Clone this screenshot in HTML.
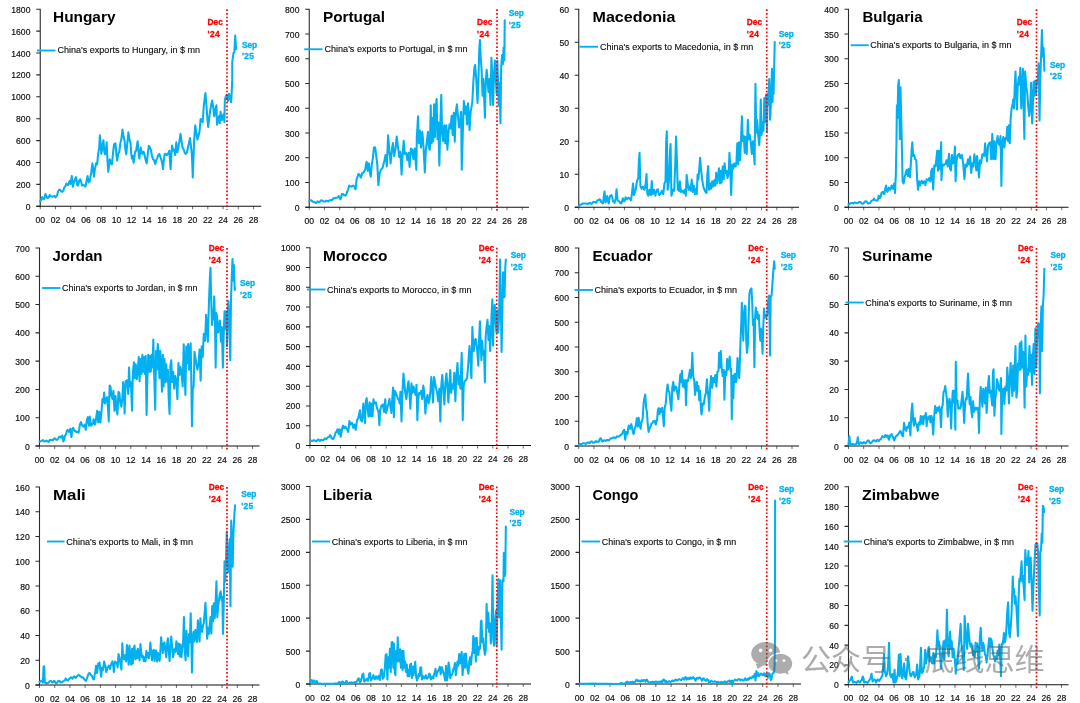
<!DOCTYPE html>
<html lang="en"><head><meta charset="utf-8"><title>China exports charts</title>
<style>
html,body{margin:0;padding:0;background:#fff;}
body{width:1080px;height:703px;overflow:hidden;}
svg{display:block;filter:blur(0.45px);font-family:"Liberation Sans","Noto Sans CJK SC",sans-serif;}
.ya{stroke:#2b2b2b;stroke-width:1.1;fill:none;}
.xa{stroke:#111;stroke-width:1.15;fill:none;}
.xt{stroke:#666;stroke-width:0.95;fill:none;}
.d{stroke:#00B0F0;stroke-width:2.05;fill:none;stroke-linejoin:round;stroke-linecap:round;}
.lg{stroke:#00B0F0;stroke-width:1.85;fill:none;}
.r{stroke:#FF0000;stroke-width:1.7;fill:none;stroke-dasharray:1.7 2;}
.y,.x{stroke:#0d0d0d;stroke-width:0.16px;}
.l{stroke:#0d0d0d;stroke-width:0.12px;}
.y{font-size:8.6px;fill:#0d0d0d;text-anchor:end;}
.x{font-size:8.6px;fill:#0d0d0d;text-anchor:middle;}
.l{font-size:8.3px;fill:#0d0d0d;}
.t{font-size:15.5px;font-weight:bold;fill:#000;}
.dc{font-size:8.4px;font-weight:bold;fill:#FF0000;stroke:#f00;stroke-width:0.3px;}
.sp{font-size:8.4px;font-weight:bold;fill:#00B0F0;stroke:#00B0F0;stroke-width:0.3px;}
</style></head><body>
<svg width="1080" height="703" viewBox="0 0 1080 703">
<rect width="1080" height="703" fill="#fff"/>
<g>
<path class="ya" d="M40.25 8.75V206.25M36.25 206.25h4M36.25 184.36h4M36.25 162.47h4M36.25 140.58h4M36.25 118.69h4M36.25 96.81h4M36.25 74.92h4M36.25 53.03h4M36.25 31.14h4M36.25 9.25h4"/>
<path class="xt" d="M40.25 206.25v3M55.48 206.25v3M70.71 206.25v3M85.95 206.25v3M101.18 206.25v3M116.41 206.25v3M131.64 206.25v3M146.88 206.25v3M162.11 206.25v3M177.34 206.25v3M192.57 206.25v3M207.8 206.25v3M223.04 206.25v3M238.27 206.25v3M253.5 206.25v3"/>
<path class="xa" d="M36.25 206.25H261.25"/>
<polyline class="d" points="40.11,201.39 41.17,199.77 42.22,197.17 43.07,198.75 43.91,199.28 44.65,198.01 45.39,194 46.44,196.59 47.5,198.22 48.56,197.48 49.61,195.06 50.67,195.87 51.72,196.53 52.78,196.68 53.83,196.11 54.68,196.1 55.52,197.38 56.26,196.3 57,195.69 58.06,191.46 59.11,189.78 60.17,189.85 61.22,191.47 62.28,191.7 63.33,190.83 64.18,187.61 65.02,186.61 65.76,185.56 66.5,183.44 67.24,184.39 67.98,185.13 68.82,183.65 69.67,180.91 70.72,183.87 71.78,176.06 72.83,186.61 73.57,183.88 74.31,181.33 75.16,178.76 76,177.11 76.63,180.59 77.27,185.13 78.11,185.56 79.17,180.91 80.22,179.22 81.07,181.16 81.91,185.56 82.65,185.17 83.39,185.13 84.44,185.57 85.5,186.61 86.56,180.6 87.61,176.06 88.67,182.39 89.72,181.33 90.46,176.8 91.2,172.89 91.83,167.64 92.47,163.39 93.21,169.65 93.94,176.69 95,168.67 96.06,163.39 97.11,164.44 98.17,153.89 99.22,147.56 99.86,135.31 100.7,143.33 101.33,153.89 102.39,147.56 103.44,140.17 104.29,151.78 105.13,154.31 105.98,149.67 106.61,142.28 107.46,160.22 108.3,171.83 109.14,164.44 109.78,159.17 110.83,163.39 111.89,164.44 112.94,153.89 114,144.39 114.74,143.93 115.48,143.33 116.32,153.89 117.17,160.64 118.22,153.89 119.28,151.78 120.33,143.33 121.39,139.11 122.44,129.61 123.5,135.94 124.56,141.22 125.4,149.67 126.24,154.31 127.3,143.33 128.36,132.36 129.41,139.11 130.47,143.33 131.31,153.89 131.94,158.53 132.79,156 133.63,162.76 134.48,156 135.11,151.78 135.74,151.52 136.38,149.67 137.01,145.21 137.64,141.22 138.49,151.78 139.33,158.53 140.18,151.78 140.81,147.56 141.66,152.83 142.5,153.89 143.56,151.78 144.61,154.94 145.67,160.22 146.72,163.39 147.78,153.89 148.83,145.87 149.89,147.56 150.94,149.67 152,156 153.06,159.17 154.11,160.22 155.17,164.02 156.22,160.22 157.28,158.11 158.33,154.94 159.39,153.89 160.44,157.06 161.5,160.22 162.34,164.44 162.98,169.09 163.82,160.22 164.67,153.89 165.51,153.74 166.36,154.94 167.09,154.9 167.83,153.89 168.57,152.4 169.31,150.72 169.94,160.22 170.58,169.09 171.42,153.89 172.06,145.44 173.11,150.72 174.17,149.67 175.22,154.94 176.28,142.28 177.33,152.2 178.39,147.56 179.44,141.22 180.5,133.83 181.56,141.22 182.61,147.98 183.35,148.55 184.09,150.72 184.93,153.08 185.78,153.89 186.83,152.83 187.89,147.56 188.94,143.33 190,138.06 190.84,145.44 191.69,152.2 192.32,164.44 192.74,177.53 193.38,160.22 194.22,139.11 194.86,130.67 195.28,125.39 196.33,132.78 197.39,139.53 198.44,135.94 199.5,131.72 200.13,124.33 200.56,119.06 201.61,120.11 202.67,122.22 203.3,113.78 203.72,106.39 204.57,99 205.41,93.09 206.26,103.22 206.89,111.67 207.52,120.11 208.16,126.87 209,120.11 210.06,111.67 211.11,105.33 212.17,100.48 213.22,107.44 214.28,116.31 215.33,109.56 216.39,105.33 217.02,124.76 218.08,120.11 219.13,115.89 219.77,123.28 220.61,111.67 221.24,116.94 222.09,120.11 222.93,115.89 223.78,113.78 224.41,122.22 224.83,100.06 225.68,96.89 226.52,94.78 227.16,99 228,101.11 228.63,96.89 229.06,93.72 230.11,99 231.17,102.17 231.8,90.56 232.22,80 232.25,84.66 232.25,61.9 233.39,53.36 234.38,51.94 235.23,35.58 235.8,44.83 236.09,49.1"/>
<text class="y" x="30.45" y="209.75">0</text>
<text class="y" x="30.45" y="187.86">200</text>
<text class="y" x="30.45" y="165.97">400</text>
<text class="y" x="30.45" y="144.08">600</text>
<text class="y" x="30.45" y="122.19">800</text>
<text class="y" x="30.45" y="100.31">1000</text>
<text class="y" x="30.45" y="78.42">1200</text>
<text class="y" x="30.45" y="56.53">1400</text>
<text class="y" x="30.45" y="34.64">1600</text>
<text class="y" x="30.45" y="12.75">1800</text>
<text class="x" x="40.25" y="222.85">00</text>
<text class="x" x="55.48" y="222.85">02</text>
<text class="x" x="70.71" y="222.85">04</text>
<text class="x" x="85.95" y="222.85">06</text>
<text class="x" x="101.18" y="222.85">08</text>
<text class="x" x="116.41" y="222.85">10</text>
<text class="x" x="131.64" y="222.85">12</text>
<text class="x" x="146.88" y="222.85">14</text>
<text class="x" x="162.11" y="222.85">16</text>
<text class="x" x="177.34" y="222.85">18</text>
<text class="x" x="192.57" y="222.85">20</text>
<text class="x" x="207.8" y="222.85">22</text>
<text class="x" x="223.04" y="222.85">24</text>
<text class="x" x="238.27" y="222.85">26</text>
<text class="x" x="253.5" y="222.85">28</text>
<text class="t" x="53" y="22.25" textLength="62.5" lengthAdjust="spacingAndGlyphs">Hungary</text>
<path class="lg" d="M37 50.5H55.5"/>
<text class="l" x="57.5" y="53" textLength="142.5" lengthAdjust="spacingAndGlyphs">China's exports to Hungary, in $ mn</text>
<path class="r" d="M227 9.25V209.65"/>
<text class="dc" x="207.5" y="25" textLength="15.3">Dec</text><text class="dc" x="207.5" y="36.75" textLength="12.2">'24</text>
<text class="sp" x="242" y="47.5" textLength="15">Sep</text><text class="sp" x="242" y="59" textLength="12">'25</text>
</g>
<g>
<path class="ya" d="M309.25 8.75V207.25M305.25 207.25h4M305.25 182.5h4M305.25 157.75h4M305.25 133h4M305.25 108.25h4M305.25 83.5h4M305.25 58.75h4M305.25 34h4M305.25 9.25h4"/>
<path class="xt" d="M309.25 207.25v3M324.46 207.25v3M339.68 207.25v3M354.89 207.25v3M370.11 207.25v3M385.32 207.25v3M400.54 207.25v3M415.75 207.25v3M430.96 207.25v3M446.18 207.25v3M461.39 207.25v3M476.61 207.25v3M491.82 207.25v3M507.04 207.25v3M522.25 207.25v3"/>
<path class="xa" d="M305.25 207.25H529"/>
<polyline class="d" points="309.11,201.39 310.17,200.32 311.22,200.33 312.28,201.16 313.33,202.02 314.39,202.01 315.44,202.87 316.5,202.71 317.56,201.39 318.61,202.28 319.67,202.02 320.72,200.59 321.78,200.33 322.83,200.92 323.89,201.6 324.94,201.67 326,200.76 327.06,200.69 328.11,201.6 329.17,200.55 330.22,200.33 331.28,199.99 332.33,199.91 333.39,198.33 334.44,198.22 335.5,197.77 336.56,197.8 337.61,197.52 338.67,196.11 339.51,197.54 340.36,199.28 341.09,197.53 341.83,194 342.89,194.02 343.94,195.06 344.68,195.23 345.42,195.69 346.27,194.64 347.11,191.89 348.17,189.3 349.22,185.56 350.28,186.46 351.33,186.61 352.39,185.87 353.44,185.56 354.5,187 355.56,189.36 356.61,179.22 357.46,177.19 358.3,173.94 359.04,174.29 359.78,175 360.83,177.53 361.57,175.53 362.31,172.89 363.16,172.81 364,171.83 364.63,170.45 365.27,169.72 366.01,164.26 366.74,161.91 367.8,170.78 368.86,163.39 369.91,172.89 370.76,176.69 371.81,164.44 372.87,158.11 373.92,147.56 374.56,147.27 375.19,147.56 376.24,156 377.3,164.44 378.36,185.13 379.41,175 380.47,170.78 381.21,169.38 381.94,168.67 382.68,167.64 383.42,164.44 384.48,160.22 385.53,154.94 386.17,159.21 386.8,166.56 387.43,152.27 388.07,135.31 388.7,142.61 389.33,151.78 389.97,156.27 390.6,163.39 391.23,156.76 391.87,149.67 392.92,142.91 393.56,150.92 394.19,156 394.82,151.9 395.46,149.67 396.09,142.71 396.72,136.58 397.36,141.41 397.99,147.56 398.62,151.41 399.26,157.06 400.31,151.78 400.94,162.37 401.58,174.58 402.63,153.89 403.69,140.8 404.74,153.89 405.38,153.6 406.01,152.83 406.64,155.23 407.28,160.22 407.91,157.07 408.54,152.83 409.6,166.98 410.23,158.04 410.87,148.61 411.5,149.05 412.13,149.67 412.77,155.54 413.4,159.17 414.03,152.57 414.67,148.61 415.51,160.22 416.36,169.72 416.78,138.06 417.41,127.42 418.04,116.31 418.89,143.33 419.94,130.67 421,147.56 421.63,138.91 422.27,131.72 422.9,138.24 423.53,147.56 424.17,159.47 424.8,172.47 425.86,149.67 426.91,141.22 427.97,131.72 428.81,147.56 429.87,149.67 430.71,105.33 431.56,143.33 432.4,118 433.24,141.22 434.09,104.28 434.93,137 435.78,107.44 436.62,99 437.47,139.11 438.31,122.22 439.37,165.5 440.21,128.56 441.27,94.78 442.11,132.78 443.17,141.22 444.22,125.39 445.28,143.33 446.33,125.39 447.39,149.67 448.44,132.78 449.5,124.33 450.56,128.56 451.61,115.89 452.67,134.89 453.72,112.72 454.78,141.64 455.83,111.67 456.89,104.28 457.94,115.89 459,127.5 460.06,121.17 461.11,111.67 461.74,169.72 462.8,132.78 463.86,101.11 464.91,113.78 465.97,106.39 467.02,124.33 468.08,103.22 468.82,117.17 469.56,130.24 470.61,111.67 471.49,107.36 472.36,101.16 473.29,82.67 474.4,67.87 475.14,65.1 476.24,78.97 476.89,91.28 477.54,103.01 478.46,78.97 479.2,51.23 479.94,40.14 480.68,56.78 481.61,69.72 482.53,95.61 483.46,78.97 484.2,99.72 484.94,117.8 485.68,84.52 486.6,69.72 487.52,78.97 488.45,91.91 489.56,78.97 490.48,104.86 491.41,57.7 492.33,75.27 493.07,104.86 494,75.27 494.92,60.48 495.85,78.97 496.59,93.76 497.33,60.48 498.07,82.67 498.81,105.78 499.54,82.67 500.47,123.35 501.21,66.02 502.13,54.93 502.87,64.17 503.61,47.53 504.35,60.48 504.72,20.16"/>
<text class="y" x="299.45" y="210.75">0</text>
<text class="y" x="299.45" y="186">100</text>
<text class="y" x="299.45" y="161.25">200</text>
<text class="y" x="299.45" y="136.5">300</text>
<text class="y" x="299.45" y="111.75">400</text>
<text class="y" x="299.45" y="87">500</text>
<text class="y" x="299.45" y="62.25">600</text>
<text class="y" x="299.45" y="37.5">700</text>
<text class="y" x="299.45" y="12.75">800</text>
<text class="x" x="309.25" y="223.85">00</text>
<text class="x" x="324.46" y="223.85">02</text>
<text class="x" x="339.68" y="223.85">04</text>
<text class="x" x="354.89" y="223.85">06</text>
<text class="x" x="370.11" y="223.85">08</text>
<text class="x" x="385.32" y="223.85">10</text>
<text class="x" x="400.54" y="223.85">12</text>
<text class="x" x="415.75" y="223.85">14</text>
<text class="x" x="430.96" y="223.85">16</text>
<text class="x" x="446.18" y="223.85">18</text>
<text class="x" x="461.39" y="223.85">20</text>
<text class="x" x="476.61" y="223.85">22</text>
<text class="x" x="491.82" y="223.85">24</text>
<text class="x" x="507.04" y="223.85">26</text>
<text class="x" x="522.25" y="223.85">28</text>
<text class="t" x="323" y="22.25" textLength="62" lengthAdjust="spacingAndGlyphs">Portugal</text>
<path class="lg" d="M304.25 49.25H322.5"/>
<text class="l" x="324.5" y="52" textLength="143" lengthAdjust="spacingAndGlyphs">China's exports to Portugal, in $ mn</text>
<path class="r" d="M497 9.25V210.65"/>
<text class="dc" x="477" y="25" textLength="15.3">Dec</text><text class="dc" x="477" y="36.75" textLength="12.2">'24</text>
<text class="sp" x="508.75" y="16.25" textLength="15">Sep</text><text class="sp" x="508.75" y="28" textLength="12">'25</text>
</g>
<g>
<path class="ya" d="M578.75 8.75V207.25M574.75 207.25h4M574.75 174.25h4M574.75 141.25h4M574.75 108.25h4M574.75 75.25h4M574.75 42.25h4M574.75 9.25h4"/>
<path class="xt" d="M578.75 207.25v3M593.98 207.25v3M609.21 207.25v3M624.45 207.25v3M639.68 207.25v3M654.91 207.25v3M670.14 207.25v3M685.38 207.25v3M700.61 207.25v3M715.84 207.25v3M731.07 207.25v3M746.3 207.25v3M761.54 207.25v3M776.77 207.25v3M792 207.25v3"/>
<path class="xa" d="M574.75 207.25H799"/>
<polyline class="d" points="578.74,206.24 580.01,204.66 581.28,204.56 582.86,203.43 584.44,203.5 586.03,203.55 587.61,204.13 588.67,203.17 589.72,202.87 590.78,203.75 591.83,203.71 592.89,202.19 593.94,202.02 595,202 596.06,202.87 597.11,200.85 598.17,199.91 598.91,199.99 599.64,199.28 600.49,199.88 601.33,202.44 602.18,202.86 603.02,203.5 603.76,196.69 604.5,191.47 605.56,202.44 606.4,199.06 607.24,196.11 607.98,200.87 608.72,203.5 609.46,198.41 610.2,195.69 610.83,195.64 611.47,195.06 612.21,196.82 612.94,201.39 613.79,201.49 614.63,202.87 615.69,198.22 616.53,189.36 617.59,200.33 618.43,201.05 619.28,201.39 620.33,203.09 621.39,203.5 622.13,200.9 622.87,198.22 623.5,200.81 624.13,201.39 624.87,200.36 625.61,197.17 626.35,198.44 627.09,199.28 627.93,197.96 628.78,197.8 629.83,198.87 630.89,200.33 631.94,194 633,183.44 634.06,195.06 634.9,192.32 635.74,189.78 636.48,183.99 637.22,180.28 638.28,178.17 638.91,160.22 639.54,152.83 640.39,185.56 641.44,188.72 642.29,187.3 643.13,186.61 643.87,189.16 644.61,189.78 645.67,183.44 646.51,173.94 647.36,194 648.41,195.69 649.47,189.78 650.21,193.54 650.94,195.06 651.79,180.91 652.84,194 653.48,192.11 654.11,189.78 654.74,191.28 655.38,195.69 656.01,192.64 656.64,190.83 657.28,189.43 657.91,189.36 658.54,192.67 659.18,195.06 659.81,194.2 660.44,194 661.18,192.38 661.92,190.83 662.56,192.41 663.19,194 663.82,189.31 664.46,183.44 665.51,181.33 666.14,143.33 666.78,131.3 667.62,189.78 668.26,186.61 668.89,181.33 669.94,151.78 670.58,143.97 671.42,195.69 672.06,193.79 672.69,189.78 673.43,189.98 674.17,190.83 675.22,164.44 676.07,136.58 676.91,160.22 677.76,189.78 678.39,190.03 679.02,190.83 679.87,181.33 680.92,191.89 681.56,191.66 682.19,190.83 682.93,191.94 683.67,192.94 684.3,190.5 684.93,189.78 685.78,195.69 686.62,175 687.47,181.33 688.52,189.78 689.58,186.61 690.63,190.83 691.69,179.64 692.74,191.89 693.8,185.56 694.86,194 695.91,188.72 696.76,194 697.6,174.58 698.44,179.22 699.29,168.67 700.13,157.69 700.98,168.67 702.03,178.17 703.09,185.56 703.72,187.96 704.36,189.78 705.41,191.89 706.47,192.94 707.31,175 708.16,166.13 709,189.78 710.06,183.44 711.11,188.72 712.17,181.33 713.22,186.61 714.28,180.28 715.33,185.56 716.18,172.89 717.02,183.44 717.87,179.22 718.92,168.24 719.98,183.44 720.82,170.78 721.67,182.39 722.72,166.56 723.78,179.22 724.62,163.39 725.47,172.89 726.52,170.78 727.58,178.17 728.63,172.89 729.48,152.83 730.32,168.67 731.17,195.06 732.22,164.44 733.28,168.67 734.33,163.39 734.97,164.83 735.6,166.56 736.44,162.33 737.29,143.33 738.13,164.44 738.98,142.28 740.03,160.22 740.88,143.33 741.93,116.31 742.78,141.22 743.83,135.94 744.68,152.83 745.73,137 746.79,153.89 747.84,119.69 748.69,139.11 749.74,134.89 750.8,143.33 751.86,153.89 752.91,141.22 753.76,151.78 754.6,164.44 755.44,83.8 756.29,132.78 757.13,120.11 758.19,134.89 759.24,145.02 760.09,130.67 760.72,99.42 761.57,134.89 762.41,122.22 763.47,130.67 764.31,97.94 765.16,122.22 766,94.78 767.06,131.72 767.33,93.76 768.25,104.86 769.17,78.97 770.1,119.65 771.02,101.16 771.95,68.8 772.5,102.08 773.06,84.52 773.61,93.76 774.72,41.98"/>
<text class="y" x="568.95" y="210.75">0</text>
<text class="y" x="568.95" y="177.75">10</text>
<text class="y" x="568.95" y="144.75">20</text>
<text class="y" x="568.95" y="111.75">30</text>
<text class="y" x="568.95" y="78.75">40</text>
<text class="y" x="568.95" y="45.75">50</text>
<text class="y" x="568.95" y="12.75">60</text>
<text class="x" x="578.75" y="223.85">00</text>
<text class="x" x="593.98" y="223.85">02</text>
<text class="x" x="609.21" y="223.85">04</text>
<text class="x" x="624.45" y="223.85">06</text>
<text class="x" x="639.68" y="223.85">08</text>
<text class="x" x="654.91" y="223.85">10</text>
<text class="x" x="670.14" y="223.85">12</text>
<text class="x" x="685.38" y="223.85">14</text>
<text class="x" x="700.61" y="223.85">16</text>
<text class="x" x="715.84" y="223.85">18</text>
<text class="x" x="731.07" y="223.85">20</text>
<text class="x" x="746.3" y="223.85">22</text>
<text class="x" x="761.54" y="223.85">24</text>
<text class="x" x="776.77" y="223.85">26</text>
<text class="x" x="792" y="223.85">28</text>
<text class="t" x="592.5" y="22.25" textLength="83" lengthAdjust="spacingAndGlyphs">Macedonia</text>
<path class="lg" d="M579.5 46.75H598"/>
<text class="l" x="600" y="49.75" textLength="153.25" lengthAdjust="spacingAndGlyphs">China's exports to Macedonia, in $ mn</text>
<path class="r" d="M766.75 9.25V210.65"/>
<text class="dc" x="746.75" y="25" textLength="15.3">Dec</text><text class="dc" x="746.75" y="36.75" textLength="12.2">'24</text>
<text class="sp" x="778.75" y="36.75" textLength="15">Sep</text><text class="sp" x="778.75" y="48.25" textLength="12">'25</text>
</g>
<g>
<path class="ya" d="M848.5 8.75V207.25M844.5 207.25h4M844.5 182.5h4M844.5 157.75h4M844.5 133h4M844.5 108.25h4M844.5 83.5h4M844.5 58.75h4M844.5 34h4M844.5 9.25h4"/>
<path class="xt" d="M848.5 207.25v3M863.73 207.25v3M878.96 207.25v3M894.2 207.25v3M909.43 207.25v3M924.66 207.25v3M939.89 207.25v3M955.12 207.25v3M970.36 207.25v3M985.59 207.25v3M1000.82 207.25v3M1016.05 207.25v3M1031.29 207.25v3M1046.52 207.25v3M1061.75 207.25v3"/>
<path class="xa" d="M844.5 207.25H1068.5"/>
<polyline class="d" points="848.53,204.56 849.91,203.61 851.28,203.08 852.33,202.92 853.39,203.71 854.44,202.59 855.5,202.44 856.56,203.25 857.61,203.29 858.67,202.19 859.72,202.02 860.78,202.3 861.83,203.71 862.89,203.77 863.94,202.87 865,201.46 866.06,201.18 867.11,202.13 868.17,203.5 869.22,203.31 870.28,202.87 871.33,200.85 872.39,200.33 873.23,199.97 874.08,198.64 874.82,200.01 875.56,200.33 876.4,200.58 877.24,200.76 877.98,199.69 878.72,195.69 879.78,198.22 880.62,196.93 881.47,192.94 882.21,192.18 882.94,191.89 883.68,193.81 884.42,194 885.27,188.61 886.11,185.56 886.74,189.8 887.38,191.89 888.12,190.21 888.86,187.67 889.59,188.55 890.33,189.78 890.97,188.28 891.6,185.56 892.23,187.11 892.87,188.72 893.5,186.06 894.13,183.44 894.98,192.94 895.82,175 896.46,143.33 896.88,105.33 897.51,118 898.14,86.33 898.78,80 899.41,111.67 899.83,139.11 900.47,87.39 901.1,111.67 901.73,139.11 902.58,181.33 903.63,183.44 904.69,177.11 905.74,172.89 906.8,169.72 907.86,176.06 908.91,168.67 909.97,177.11 910.81,164.44 911.66,149.67 912.29,142.28 913.13,156 914.19,154.94 915.24,159.17 916.3,160.22 917.14,179.22 917.99,189.78 919.04,181.33 919.68,183.05 920.31,185.56 920.94,182.3 921.58,180.91 922.21,181.28 922.84,183.44 923.48,182.12 924.11,181.33 924.74,183.12 925.38,185.13 926.01,181.82 926.64,179.22 927.28,180.27 927.91,180.28 928.54,179.2 929.18,178.17 929.81,180.76 930.44,181.33 931.29,170.78 932.13,168.67 933.19,189.36 934.24,165.5 934.88,166.7 935.51,166.56 936.36,159.17 937.2,150.72 938.04,170.78 938.89,150.72 939.73,168.67 940.58,154.94 941.21,142.28 941.42,180.28 942.48,164.44 943.11,164.67 943.74,165.5 944.48,164.49 945.22,164.02 945.86,162.62 946.49,160.22 947.12,163.21 947.76,166.56 948.39,158.76 949.02,153.89 950.08,168.67 950.92,170.36 951.98,154.94 953.03,163.39 954.09,160.22 954.93,146.5 955.57,181.33 956.62,160.22 957.26,156.72 957.89,154.94 958.52,154.74 959.16,153.89 959.79,157.23 960.42,158.11 961.06,155.89 961.69,154.94 962.74,160.22 963.59,168.67 964.43,179.22 965.49,164.44 966.12,165.43 966.76,166.56 967.39,162.44 968.02,159.17 969.08,164.44 970.13,156.42 971.19,172.89 972.24,163.39 973.3,166.56 974.36,154.31 975.41,160.22 976.26,170.36 977.1,156 977.94,164.44 979,177.53 980.06,160.22 981.11,163.39 982.17,154.94 983.22,153.89 984.28,156 985.12,143.33 985.97,151.78 987.02,161.28 988.08,145.44 989.13,143.33 990.19,142.28 991.24,159.17 992.3,133.83 993.36,159.17 994.41,141.22 995.47,159.17 996.52,143.33 997.58,135.94 998.63,143.33 999.69,145.44 1000.53,135.94 1001.38,185.98 1002.22,143.33 1003.28,137 1004.33,147.56 1005.39,138.06 1006.44,139.11 1007.29,126.87 1008.13,141.22 1008.98,125.39 1009.82,143.33 1010.67,118 1011.72,107.44 1012.78,103.22 1013.29,99.31 1014.03,108.56 1014.77,86.37 1015.5,71.57 1016.24,93.76 1016.98,109.48 1017.72,86.37 1018.83,77.12 1019.57,84.52 1020.31,67.87 1021.24,108.56 1022.16,88.21 1022.9,68.8 1023.64,108.56 1024.38,139.07 1025.12,71.57 1026.23,86.37 1027.16,91.91 1028.08,104.86 1029.19,115.95 1030.11,108.56 1031.04,82.67 1032.15,123.35 1032.89,104.86 1033.63,81.74 1034.37,95.61 1035.11,80.82 1036.03,93.76 1036.96,80.82 1037.7,82.67 1038.62,63.25 1039.54,120.58 1040.28,78.97 1041.21,53.08 1041.95,29.96 1042.69,56.78 1043.61,47.9 1044.35,70.65"/>
<text class="y" x="838.7" y="210.75">0</text>
<text class="y" x="838.7" y="186">50</text>
<text class="y" x="838.7" y="161.25">100</text>
<text class="y" x="838.7" y="136.5">150</text>
<text class="y" x="838.7" y="111.75">200</text>
<text class="y" x="838.7" y="87">250</text>
<text class="y" x="838.7" y="62.25">300</text>
<text class="y" x="838.7" y="37.5">350</text>
<text class="y" x="838.7" y="12.75">400</text>
<text class="x" x="848.5" y="223.85">00</text>
<text class="x" x="863.73" y="223.85">02</text>
<text class="x" x="878.96" y="223.85">04</text>
<text class="x" x="894.2" y="223.85">06</text>
<text class="x" x="909.43" y="223.85">08</text>
<text class="x" x="924.66" y="223.85">10</text>
<text class="x" x="939.89" y="223.85">12</text>
<text class="x" x="955.12" y="223.85">14</text>
<text class="x" x="970.36" y="223.85">16</text>
<text class="x" x="985.59" y="223.85">18</text>
<text class="x" x="1000.82" y="223.85">20</text>
<text class="x" x="1016.05" y="223.85">22</text>
<text class="x" x="1031.29" y="223.85">24</text>
<text class="x" x="1046.52" y="223.85">26</text>
<text class="x" x="1061.75" y="223.85">28</text>
<text class="t" x="862.5" y="22.25" textLength="60" lengthAdjust="spacingAndGlyphs">Bulgaria</text>
<path class="lg" d="M850.75 45.25H868.75"/>
<text class="l" x="870.25" y="48.25" textLength="141.25" lengthAdjust="spacingAndGlyphs">China's exports to Bulgaria, in $ mn</text>
<path class="r" d="M1036.5 9.25V210.65"/>
<text class="dc" x="1016.75" y="25" textLength="15.3">Dec</text><text class="dc" x="1016.75" y="36.75" textLength="12.2">'24</text>
<text class="sp" x="1050" y="67.5" textLength="15">Sep</text><text class="sp" x="1050" y="79" textLength="12">'25</text>
</g>
<g>
<path class="ya" d="M39.5 247.5V446M35.5 446h4M35.5 417.71h4M35.5 389.43h4M35.5 361.14h4M35.5 332.86h4M35.5 304.57h4M35.5 276.29h4M35.5 248h4"/>
<path class="xt" d="M39.5 446v3M54.71 446v3M69.93 446v3M85.14 446v3M100.36 446v3M115.57 446v3M130.79 446v3M146 446v3M161.21 446v3M176.43 446v3M191.64 446v3M206.86 446v3M222.07 446v3M237.29 446v3M252.5 446v3"/>
<path class="xa" d="M35.5 446H259.5"/>
<polyline class="d" points="39.53,441.44 40.91,441.24 42.28,440.39 43.33,440.31 44.39,441.44 45.44,441.23 46.5,440.6 47.56,441.47 48.61,441.87 49.67,440.14 50.72,439.76 51.78,440.04 52.83,440.39 53.89,438.72 54.94,438.28 56,439.63 57.06,439.76 58.11,438.62 59.17,436.8 60.22,436.61 61.28,437.64 62.33,435.53 63.39,441.44 64.13,439.61 64.87,436.17 65.5,434.95 66.13,434.06 66.87,430.83 67.61,429.83 68.35,430.69 69.09,431.94 69.72,430.17 70.36,428.78 71.41,437.22 72.47,428.78 73.31,427.72 73.94,430.34 74.58,430.89 75.32,430.83 76.06,431.94 76.79,431.69 77.53,431.94 78.59,432.58 79.22,429.44 79.86,424.56 80.91,422.02 81.54,423.97 82.18,425.61 82.81,425.65 83.44,426.67 84.08,425.48 84.71,424.56 85.77,429.83 86.82,420.33 87.88,417.17 88.93,425.61 89.78,416.53 90.41,421.43 91.04,425.61 91.68,424.84 92.31,424.56 92.94,422.72 93.58,419.28 94.21,420.73 94.84,424.56 95.48,422.63 96.11,418.22 97.17,410.83 98.22,422.44 99.28,411.89 100.33,422.44 101.39,412.94 102.44,399.22 103.29,402.39 104.13,392.47 104.98,403.44 106.03,399.22 107.09,397.11 107.93,407.67 108.78,421.39 109.62,385.5 110.47,386.56 111.52,396.06 112.58,399.22 113.42,390.78 114.48,410.83 115.53,396.06 116.38,407.67 117.43,414.42 118.49,391.83 119.33,392.89 120.39,403.44 121.44,406.61 122.29,399.22 123.13,381.91 123.98,390.78 124.61,413.58 125.67,381.28 126.3,380.85 126.93,380.22 127.57,385.72 128.2,393.94 129.04,367.56 129.89,386.56 130.94,382.33 132,410.83 132.84,373.89 133.9,362.28 134.74,378.11 135.8,364.39 136.86,379.17 137.91,368.61 138.76,357 139.6,381.28 140.44,359.11 141.5,373.89 142.34,354.89 143.19,371.78 144.03,357 144.88,373.89 145.72,355.94 146.57,415.06 147.41,378.11 148.26,354.89 149.1,371.78 149.94,355.94 150.79,371.78 151.63,354.89 152.48,367.56 153.32,339.48 154.17,373.89 155.22,409.78 156.07,350.67 156.91,369.67 157.76,343.91 158.6,357 159.44,378.11 160.29,350.67 161.13,369.67 161.98,391.83 162.82,354.89 163.67,386.56 164.51,359.11 165.36,382.33 166.2,364.39 167.04,381.28 167.89,369.67 168.73,399.22 169.58,414 170.42,365.44 171.27,360.17 172.11,382.33 173.17,371.78 174.22,388.67 175.28,376 176.33,380.22 177.39,399.22 178.44,362.91 179.5,374.94 180.56,367.13 181.61,373.89 182.67,386.56 183.72,344.33 184.57,371.78 185.41,395 186.26,346.44 187.31,363.33 188.16,343.91 189,369.67 189.84,350.67 190.69,343.28 191.32,382.33 191.96,426.24 192.8,388.67 193.64,386.56 194.49,351.72 195.33,357 196.39,364.39 197.44,369.67 198.5,363.33 199.56,349.61 200.61,380.64 201.67,346.44 202.72,357 203.78,333.78 204.46,337.39 205.14,340.78 206.06,314.89 206.98,326.91 207.91,341.71 208.46,317.67 209.2,295.48 209.94,276.98 210.5,267.74 211.24,301.02 211.98,325.06 212.72,310.27 213.46,319.52 214.2,296.4 214.94,319.52 215.68,367.6 216.42,313.04 217.34,319.52 218.08,332.46 219,326.91 219.93,320.44 220.85,341.71 221.78,326.91 222.89,367.6 223.63,336.16 224.55,311.19 225.48,328.76 226.22,311.19 226.96,346.33 227.7,313.97 228.44,301.02 229.17,317.67 230.28,360.2 231.02,299.17 231.76,276.98 232.5,259.05 233.24,280.68 233.98,264.96 234.72,289.93 235.09,288.08"/>
<text class="y" x="29.7" y="449.5">0</text>
<text class="y" x="29.7" y="421.21">100</text>
<text class="y" x="29.7" y="392.93">200</text>
<text class="y" x="29.7" y="364.64">300</text>
<text class="y" x="29.7" y="336.36">400</text>
<text class="y" x="29.7" y="308.07">500</text>
<text class="y" x="29.7" y="279.79">600</text>
<text class="y" x="29.7" y="251.5">700</text>
<text class="x" x="39.5" y="462.6">00</text>
<text class="x" x="54.71" y="462.6">02</text>
<text class="x" x="69.93" y="462.6">04</text>
<text class="x" x="85.14" y="462.6">06</text>
<text class="x" x="100.36" y="462.6">08</text>
<text class="x" x="115.57" y="462.6">10</text>
<text class="x" x="130.79" y="462.6">12</text>
<text class="x" x="146" y="462.6">14</text>
<text class="x" x="161.21" y="462.6">16</text>
<text class="x" x="176.43" y="462.6">18</text>
<text class="x" x="191.64" y="462.6">20</text>
<text class="x" x="206.86" y="462.6">22</text>
<text class="x" x="222.07" y="462.6">24</text>
<text class="x" x="237.29" y="462.6">26</text>
<text class="x" x="252.5" y="462.6">28</text>
<text class="t" x="52.5" y="260.75" textLength="50" lengthAdjust="spacingAndGlyphs">Jordan</text>
<path class="lg" d="M42 288H60.5"/>
<text class="l" x="62" y="291" textLength="135.5" lengthAdjust="spacingAndGlyphs">China's exports to Jordan, in $ mn</text>
<path class="r" d="M227 248V449.4"/>
<text class="dc" x="208.75" y="251.25" textLength="15.3">Dec</text><text class="dc" x="208.75" y="263" textLength="12.2">'24</text>
<text class="sp" x="240" y="285.75" textLength="15">Sep</text><text class="sp" x="240" y="297.5" textLength="12">'25</text>
</g>
<g>
<path class="ya" d="M310 247.25V445.5M306 445.5h4M306 425.73h4M306 405.95h4M306 386.18h4M306 366.4h4M306 346.62h4M306 326.85h4M306 307.07h4M306 287.3h4M306 267.52h4M306 247.75h4"/>
<path class="xt" d="M310 445.5v3M325.23 445.5v3M340.46 445.5v3M355.7 445.5v3M370.93 445.5v3M386.16 445.5v3M401.39 445.5v3M416.62 445.5v3M431.86 445.5v3M447.09 445.5v3M462.32 445.5v3M477.55 445.5v3M492.79 445.5v3M508.02 445.5v3M523.25 445.5v3"/>
<path class="xa" d="M306 445.5H531"/>
<polyline class="d" points="310.11,439.97 311.17,440.65 312.22,441.02 313.28,440.29 314.33,440.39 315.39,440.65 316.44,441.44 317.29,440.45 318.13,439.33 318.98,439.81 319.82,441.02 320.67,440.06 321.51,439.76 322.36,440.23 323.2,440.18 324.04,439.43 324.89,438.28 325.73,439.18 326.58,438.91 327.42,437.67 328.27,437.22 329.11,436.9 329.96,435.11 330.8,435.93 331.64,438.28 332.49,438.92 333.33,438.91 334.18,437.16 335.02,434.69 335.76,432.43 336.5,431.94 337.56,429.2 338.19,432.4 338.82,434.06 339.67,429.2 340.72,436.8 341.78,430.89 342.41,427.21 343.04,425.61 343.68,426.64 344.31,428.36 344.94,427.35 345.58,426.67 346.21,427.89 346.84,428.78 347.48,430.19 348.11,431.94 348.74,427.93 349.38,420.97 350.01,423.03 350.64,424.56 351.28,423.25 351.91,422.87 352.54,423.95 353.18,427.72 353.81,426.51 354.44,424.56 355.08,427.76 355.71,429.83 356.34,425.22 356.98,420.33 357.61,418.98 358.24,418.22 359.09,414 359.93,410.2 360.78,420.33 361.41,420.2 362.04,421.39 362.68,413.5 363.31,403.44 364.16,415.06 365,422.87 365.84,401.33 366.69,398.17 367.53,407.67 368.59,416.53 369.64,402.39 370.7,416.11 371.76,403.44 372.6,416.11 373.44,399.22 374.08,402.29 374.71,403.44 375.34,402.94 375.98,402.39 376.61,406.69 377.24,408.72 377.88,410.17 378.51,411.89 379.36,425.19 380.2,409.78 380.83,407.84 381.47,405.56 382.1,405.69 382.73,404.5 383.37,407.89 384,411.89 384.63,405.06 385.27,399.22 386.11,412.94 386.74,410.65 387.38,407.67 388.01,405.14 388.64,403.44 389.49,398.8 390.33,405.56 391.39,412.94 392.23,399.22 393.08,387.61 393.92,417.17 394.77,390.78 395.82,392.89 396.46,394.88 397.09,396.06 397.72,398.69 398.36,399.22 398.99,400.55 399.62,403.44 400.47,391.83 401.52,421.39 402.37,395 403.42,373.47 404.27,382.33 405.32,392.89 406.38,399.22 407.22,390.78 407.86,384.82 408.49,381.28 409.33,390.78 410.39,408.72 411.44,383.39 412.5,392.89 413.56,386.56 414.61,391.83 415.67,395 416.51,384.87 417.36,420.33 418.2,399.22 419.04,392.89 420.1,393.94 421.16,390.78 422.21,399.22 423.27,385.5 424.32,392.89 425.38,413.58 426.43,399.22 427.49,395 428.54,403.44 429.6,399.22 430.44,390.78 431.29,377.06 432.13,386.56 432.98,402.39 434.03,377.06 435.09,382.33 436.14,388.67 437.2,392.89 438.26,401.33 439.31,388.67 440.37,421.39 441.21,386.56 442.27,374.94 443.32,390.78 444.38,404.5 445.43,382.33 446.49,373.47 447.54,388.67 448.39,402.39 449.44,382.33 450.29,370.09 451.13,392.89 452.19,384.44 453.24,388.67 454.3,372.83 455.36,401.33 456.41,376 457.47,362.91 458.52,384.44 459.58,376 460.42,388.67 461.27,365.44 461.69,352.78 462.32,388.67 462.74,420.33 463.59,386.56 464.64,381.28 465.28,380.61 465.91,380.22 466.54,378.79 467.18,378.11 467.81,369.07 468.44,361.22 469.5,346.02 470.56,361.22 471.4,378.11 472.36,326.91 473.1,343.56 473.84,350.95 474.77,339.86 475.69,338.93 476.61,345.41 477.54,354.65 478.28,365.75 479.2,336.16 479.94,321.37 480.68,343.56 481.42,360.2 482.16,340.78 483.09,354.65 484.01,350.95 484.94,382.39 485.68,336.16 486.6,326.91 487.52,319.89 488.45,339.86 489.19,325.99 490.11,350.95 490.85,336.16 491.59,313.97 492.33,299.54 493.07,345.41 493.81,313.97 494.74,304.72 495.48,319.52 496.4,332.46 497.33,310.27 498.25,332.46 499.17,313.97 500.1,259.42 500.84,304.72 501.58,351.88 502.32,313.97 503.06,272.36 503.8,286.23 504.54,297.33 505.28,267.74 505.83,259.42"/>
<text class="y" x="300.2" y="449">0</text>
<text class="y" x="300.2" y="429.23">100</text>
<text class="y" x="300.2" y="409.45">200</text>
<text class="y" x="300.2" y="389.68">300</text>
<text class="y" x="300.2" y="369.9">400</text>
<text class="y" x="300.2" y="350.12">500</text>
<text class="y" x="300.2" y="330.35">600</text>
<text class="y" x="300.2" y="310.57">700</text>
<text class="y" x="300.2" y="290.8">800</text>
<text class="y" x="300.2" y="271.02">900</text>
<text class="y" x="300.2" y="251.25">1000</text>
<text class="x" x="310" y="462.1">00</text>
<text class="x" x="325.23" y="462.1">02</text>
<text class="x" x="340.46" y="462.1">04</text>
<text class="x" x="355.7" y="462.1">06</text>
<text class="x" x="370.93" y="462.1">08</text>
<text class="x" x="386.16" y="462.1">10</text>
<text class="x" x="401.39" y="462.1">12</text>
<text class="x" x="416.62" y="462.1">14</text>
<text class="x" x="431.86" y="462.1">16</text>
<text class="x" x="447.09" y="462.1">18</text>
<text class="x" x="462.32" y="462.1">20</text>
<text class="x" x="477.55" y="462.1">22</text>
<text class="x" x="492.79" y="462.1">24</text>
<text class="x" x="508.02" y="462.1">26</text>
<text class="x" x="523.25" y="462.1">28</text>
<text class="t" x="323" y="260.75" textLength="64.5" lengthAdjust="spacingAndGlyphs">Morocco</text>
<path class="lg" d="M307 289.5H325.5"/>
<text class="l" x="327" y="292.5" textLength="144.5" lengthAdjust="spacingAndGlyphs">China's exports to Morocco, in $ mn</text>
<path class="r" d="M496.75 247.75V448.9"/>
<text class="dc" x="478.75" y="251.25" textLength="15.3">Dec</text><text class="dc" x="478.75" y="263" textLength="12.2">'24</text>
<text class="sp" x="510.75" y="258.25" textLength="15">Sep</text><text class="sp" x="510.75" y="269.5" textLength="12">'25</text>
</g>
<g>
<path class="ya" d="M578.75 247.5V446M574.75 446h4M574.75 421.25h4M574.75 396.5h4M574.75 371.75h4M574.75 347h4M574.75 322.25h4M574.75 297.5h4M574.75 272.75h4M574.75 248h4"/>
<path class="xt" d="M578.75 446v3M593.98 446v3M609.21 446v3M624.45 446v3M639.68 446v3M654.91 446v3M670.14 446v3M685.38 446v3M700.61 446v3M715.84 446v3M731.07 446v3M746.3 446v3M761.54 446v3M776.77 446v3M792 446v3"/>
<path class="xa" d="M574.75 446H799"/>
<polyline class="d" points="578.74,445.24 580.01,443.91 581.28,443.98 582.33,443.72 583.39,443.13 584.44,443.35 585.5,443.98 586.56,443.54 587.61,442.29 588.67,442.66 589.72,443.13 590.78,441.47 591.83,441.44 592.89,442.64 593.94,442.71 595,441.91 596.06,441.02 597.11,441.87 598.17,441.87 598.91,441.45 599.64,439.33 600.28,438.28 600.91,438.28 601.54,439.79 602.18,441.44 603.02,441.1 603.87,440.39 604.71,440.45 605.56,441.02 606.4,440.29 607.24,439.76 607.98,440.5 608.72,440.39 609.46,439.8 610.2,438.91 611.04,438.33 611.89,438.28 612.73,437.95 613.58,437.22 614.42,437.44 615.27,438.28 616.11,437.6 616.96,436.38 617.8,436.53 618.64,436.8 619.49,436.04 620.33,435.11 621.18,434.45 622.02,434.06 622.66,432.73 623.29,430.89 624.34,429.83 625.19,439.76 626.24,431.94 626.88,432.99 627.51,434.06 628.14,428.55 628.78,425.61 629.41,427.47 630.04,428.78 630.68,426.32 631.31,424.13 631.94,427.39 632.58,430.89 633.63,434.06 634.69,428.78 635.32,427.61 635.96,424.56 636.8,418.22 637.86,426.67 638.7,417.8 639.76,424.56 640.6,428.78 641.44,422.44 642.08,420.64 642.71,418.22 643.56,403.44 644.4,398.17 645.24,394.58 646.09,407.67 646.93,411.89 647.78,424.56 648.62,431.94 649.47,428.78 650.1,427.51 650.73,426.24 651.37,423.84 652,423.5 652.63,422.68 653.27,421.39 653.9,420.88 654.53,420.76 655.17,422.92 655.8,424.56 656.43,421.08 657.07,420.33 657.91,409.78 658.76,408.09 659.6,414 660.44,408.72 661.29,411.89 662.13,407.67 662.98,416.11 663.82,426.24 664.67,407.67 665.72,403.44 666.78,390.78 667.62,384.44 668.47,390.78 669.31,391.83 670.37,402.39 671.42,410.83 672.27,387.61 673.32,381.91 674.17,390.78 675.22,386.56 676.28,386.98 677.33,392.89 678.39,399.22 679.44,384.44 680.29,374.31 681.13,382.33 681.98,370.72 682.82,386.56 683.67,380.22 684.51,387.61 685.36,380.22 685.99,405.13 686.83,380.22 687.89,381.28 688.94,376 690,369.67 690.84,378.11 691.69,369.24 692.32,352.78 693.17,376 694.22,380.22 695.07,395 695.91,386.56 696.76,381.91 697.6,390.78 698.44,386.13 699.29,400.28 700.13,390.78 700.98,409.78 701.61,414.42 702.67,403.44 703.72,404.5 704.78,397.11 705.83,392.89 706.89,379.17 707.73,390.78 708.58,399.22 709.21,410.83 710.06,388.67 711.11,376 712.17,387.61 713.22,378.11 714.28,382.33 715.33,374.94 716.39,386.56 717.44,371.78 718.5,370.72 719.13,352.78 719.98,367.56 720.82,351.09 721.67,367.56 722.72,376 723.78,369.67 724.41,399.64 725.26,371.78 726.31,374.94 727.16,359.11 728,369.67 728.84,364.39 729.69,356.58 730.53,370.72 731.17,368.61 731.8,419.28 732.64,376 733.28,398.17 734.12,374.94 734.97,373.89 735.81,382.33 736.66,379.17 737.5,358.06 738.34,367.56 739.19,378.11 740.03,357 740.51,340.78 741.25,323.21 741.81,302.87 742.55,325.06 743.29,340.78 744.03,313.97 744.77,305.65 745.5,306.57 746.24,339.86 746.98,352.8 747.91,344.48 748.65,317.67 749.39,293.63 750.31,289.93 751.42,288.45 752.16,301.02 752.9,325.06 753.64,319.52 754.38,367.23 755.12,317.67 755.86,307.5 756.6,317.67 757.34,312.12 758.08,319.52 758.82,314.89 759.56,330.61 760.3,340.78 761.04,328.76 761.78,336.16 762.52,353.73 763.26,326.91 764,308.42 764.74,317.67 765.48,314.89 766.4,317.67 767.33,313.97 768.25,301.02 769.17,295.48 770.1,355.58 770.65,297.33 771.58,295.48 772.5,282.53 773.43,269.59 774.17,261.27 774.72,268.66"/>
<text class="y" x="568.95" y="449.5">0</text>
<text class="y" x="568.95" y="424.75">100</text>
<text class="y" x="568.95" y="400">200</text>
<text class="y" x="568.95" y="375.25">300</text>
<text class="y" x="568.95" y="350.5">400</text>
<text class="y" x="568.95" y="325.75">500</text>
<text class="y" x="568.95" y="301">600</text>
<text class="y" x="568.95" y="276.25">700</text>
<text class="y" x="568.95" y="251.5">800</text>
<text class="x" x="578.75" y="462.6">00</text>
<text class="x" x="593.98" y="462.6">02</text>
<text class="x" x="609.21" y="462.6">04</text>
<text class="x" x="624.45" y="462.6">06</text>
<text class="x" x="639.68" y="462.6">08</text>
<text class="x" x="654.91" y="462.6">10</text>
<text class="x" x="670.14" y="462.6">12</text>
<text class="x" x="685.38" y="462.6">14</text>
<text class="x" x="700.61" y="462.6">16</text>
<text class="x" x="715.84" y="462.6">18</text>
<text class="x" x="731.07" y="462.6">20</text>
<text class="x" x="746.3" y="462.6">22</text>
<text class="x" x="761.54" y="462.6">24</text>
<text class="x" x="776.77" y="462.6">26</text>
<text class="x" x="792" y="462.6">28</text>
<text class="t" x="592.5" y="260.75" textLength="60" lengthAdjust="spacingAndGlyphs">Ecuador</text>
<path class="lg" d="M574.5 290H593"/>
<text class="l" x="594.5" y="293" textLength="142.5" lengthAdjust="spacingAndGlyphs">China's exports to Ecuador, in $ mn</text>
<path class="r" d="M766.75 248V449.4"/>
<text class="dc" x="748.25" y="251.25" textLength="15.3">Dec</text><text class="dc" x="748.25" y="263" textLength="12.2">'24</text>
<text class="sp" x="780.75" y="258.25" textLength="15">Sep</text><text class="sp" x="780.75" y="269.5" textLength="12">'25</text>
</g>
<g>
<path class="ya" d="M848.5 247.5V446M844.5 446h4M844.5 417.71h4M844.5 389.43h4M844.5 361.14h4M844.5 332.86h4M844.5 304.57h4M844.5 276.29h4M844.5 248h4"/>
<path class="xt" d="M848.5 446v3M863.71 446v3M878.93 446v3M894.14 446v3M909.36 446v3M924.57 446v3M939.79 446v3M955 446v3M970.21 446v3M985.43 446v3M1000.64 446v3M1015.86 446v3M1031.07 446v3M1046.29 446v3M1061.5 446v3"/>
<path class="xa" d="M844.5 446H1068.5"/>
<polyline class="d" points="848.53,444.61 849.38,436.17 850.22,444.61 851.28,444.19 852.33,443.98 853.39,444.36 854.44,444.61 855.5,444.63 856.56,443.56 857.19,441.02 857.82,437.22 858.67,443.98 859.51,443.92 860.36,442.5 861.2,442.43 862.04,443.56 862.89,443.38 863.73,442.08 864.58,442.82 865.42,443.56 866.27,442.36 867.11,441.44 867.96,440.41 868.8,440.6 869.64,442.51 870.49,443.13 871.33,442.79 872.18,441.87 873.02,440.49 873.87,440.39 874.71,440.44 875.56,441.44 876.4,441.37 877.24,439.76 878.09,440.36 878.93,441.02 879.78,439.43 880.62,439.33 881.47,438.14 882.31,436.17 883.16,436.49 884,437.22 884.63,436.81 885.27,435.11 885.9,435.29 886.53,436.8 887.17,435.54 887.8,435.53 888.43,438.65 889.07,439.76 889.7,437.05 890.33,435.11 890.97,434.89 891.6,434.06 892.23,435.85 892.87,436.8 893.5,439.1 894.13,440.39 894.77,438.94 895.4,437.22 896.03,436.07 896.67,436.17 897.3,434.89 897.93,434.69 898.57,433.6 899.2,433 899.83,431.52 900.47,430.89 901.1,432.57 901.73,434.69 902.37,435.54 903,436.17 904.06,422.87 905.11,428.78 906.17,430.89 907.22,426.67 908.28,427.72 909.33,422.44 910.39,435.53 911.44,411.89 912.29,403.44 913.13,420.33 913.98,425.61 914.82,418.22 915.67,423.5 916.72,424.56 917.78,430.89 918.83,422.44 919.89,424.56 920.73,416.11 921.58,423.5 922.42,416.53 923.27,424.13 924.11,416.11 924.96,418.22 925.8,412.94 926.64,426.24 927.49,417.17 928.33,419.28 929.39,416.11 930.44,422.44 931.29,415.69 932.13,418.22 933.19,434.69 934.03,418.22 935.09,405.98 936.14,412.94 937.2,407.67 938.26,410.83 939.31,406.61 940.16,411.89 941,427.09 941.84,407.67 942.69,405.13 943.53,391.83 944.38,390.78 945.22,386.13 946.07,392.89 946.91,399.22 947.76,416.74 948.6,403.44 949.44,398.8 950.29,403.44 951.13,428.36 951.98,403.44 952.82,390.78 953.67,402.39 954.51,390.78 955.36,429.83 955.78,361.86 956.62,401.33 957.47,400.28 958.31,408.72 959.16,407.67 960,408.72 960.84,406.61 961.69,399.22 962.53,391.83 963.38,407.67 964.22,422.87 965.07,403.44 965.91,398.17 966.76,399.22 967.39,384.44 968.02,373.47 968.87,392.89 969.71,404.5 970.56,397.11 971.4,411.89 972.24,417.17 973.09,401.33 973.93,411.89 974.78,407.67 975.41,408.32 976.04,409.78 976.68,407.86 977.31,407.67 978.16,408.72 979,433 979.84,399.22 980.69,386.98 981.53,397.11 982.38,406.61 983.22,388.67 984.07,391.83 984.91,403.44 985.76,387.61 986.6,412.94 987.44,399.22 988.29,382.33 988.92,376 989.77,392.89 990.61,390.78 991.46,398.17 992.3,405.56 992.93,371.78 993.57,369.24 994.41,415.69 995.26,399.22 996.1,392.89 996.94,379.17 997.79,382.33 998.63,388.67 999.48,390.78 1000.32,385.5 1000.96,378.11 1001.38,434.06 1002.22,390.78 1003.28,388.67 1004.33,403.87 1005.39,386.56 1006.44,390.78 1007.29,367.56 1008.13,382.33 1008.98,403.44 1009.82,378.11 1010.67,362.91 1011.51,382.33 1012.36,396.06 1013.2,365.44 1014.04,390.78 1014.89,364.39 1015.52,346.02 1016.37,397.53 1017.21,390.78 1018.06,363.33 1018.9,369.67 1019.74,343.28 1020.59,369.67 1021.43,341.17 1022.28,367.56 1023.12,351.72 1023.97,374.31 1024.6,407.67 1025.44,335.47 1026.29,386.56 1027.13,369.67 1027.98,374.94 1028.82,361.22 1029.46,346.02 1030.3,371.78 1031.14,354.89 1031.99,384.87 1032.83,357 1033.68,343.91 1034.52,373.89 1035.37,328.5 1036.22,367.6 1036.96,343.56 1037.7,326.91 1038.44,323.21 1039.17,324.14 1039.91,393.3 1040.65,328.76 1041.39,306.57 1042.13,350.95 1042.87,305.65 1043.61,295.48 1044.35,268.66"/>
<text class="y" x="838.7" y="449.5">0</text>
<text class="y" x="838.7" y="421.21">10</text>
<text class="y" x="838.7" y="392.93">20</text>
<text class="y" x="838.7" y="364.64">30</text>
<text class="y" x="838.7" y="336.36">40</text>
<text class="y" x="838.7" y="308.07">50</text>
<text class="y" x="838.7" y="279.79">60</text>
<text class="y" x="838.7" y="251.5">70</text>
<text class="x" x="848.5" y="462.6">00</text>
<text class="x" x="863.71" y="462.6">02</text>
<text class="x" x="878.93" y="462.6">04</text>
<text class="x" x="894.14" y="462.6">06</text>
<text class="x" x="909.36" y="462.6">08</text>
<text class="x" x="924.57" y="462.6">10</text>
<text class="x" x="939.79" y="462.6">12</text>
<text class="x" x="955" y="462.6">14</text>
<text class="x" x="970.21" y="462.6">16</text>
<text class="x" x="985.43" y="462.6">18</text>
<text class="x" x="1000.64" y="462.6">20</text>
<text class="x" x="1015.86" y="462.6">22</text>
<text class="x" x="1031.07" y="462.6">24</text>
<text class="x" x="1046.29" y="462.6">26</text>
<text class="x" x="1061.5" y="462.6">28</text>
<text class="t" x="862" y="260.75" textLength="70.5" lengthAdjust="spacingAndGlyphs">Suriname</text>
<path class="lg" d="M845.5 302.5H863.75"/>
<text class="l" x="865.25" y="305.5" textLength="146.75" lengthAdjust="spacingAndGlyphs">China's exports to Suriname, in $ mn</text>
<path class="r" d="M1036.5 248V449.4"/>
<text class="dc" x="1018" y="251.25" textLength="15.3">Dec</text><text class="dc" x="1018" y="263" textLength="12.2">'24</text>
<text class="sp" x="1050.5" y="258.25" textLength="15">Sep</text><text class="sp" x="1050.5" y="269.5" textLength="12">'25</text>
</g>
<g>
<path class="ya" d="M39.5 486.5V685M35.5 685h4M35.5 660.25h4M35.5 635.5h4M35.5 610.75h4M35.5 586h4M35.5 561.25h4M35.5 536.5h4M35.5 511.75h4M35.5 487h4"/>
<path class="xt" d="M39.5 685v3M54.71 685v3M69.93 685v3M85.14 685v3M100.36 685v3M115.57 685v3M130.79 685v3M146 685v3M161.21 685v3M176.43 685v3M191.64 685v3M206.86 685v3M222.07 685v3M237.29 685v3M252.5 685v3"/>
<path class="xa" d="M35.5 685H259.5"/>
<polyline class="d" points="39.53,682.13 40.38,681.41 41.22,680.87 42.07,680.96 42.91,682.56 43.54,666.72 44.18,666.3 44.81,682.56 45.66,683.08 46.5,682.98 47.56,683.09 48.61,682.56 49.67,681.2 50.72,680.87 51.46,681.33 52.2,682.56 53.04,682.27 53.89,680.87 54.73,681.21 55.58,682.98 56.42,683.01 57.27,682.56 58.11,681.03 58.96,680.87 59.8,681.29 60.64,682.56 61.49,682.25 62.33,682.13 63.18,681.2 64.02,680.87 64.87,680.36 65.71,678.33 66.56,679.79 67.4,680.44 68.24,680.19 69.09,678.76 69.93,678.44 70.78,677.28 71.62,677.47 72.47,678.76 73.31,677.45 74.16,676.22 75,677.1 75.84,677.91 76.69,676.83 77.53,675.8 78.38,675.01 79.22,675.17 80.07,675.91 80.91,676.64 81.76,677.52 82.6,677.28 83.44,677.63 84.29,679.39 85.13,680.27 85.98,680.87 86.82,678.75 87.67,676.22 88.51,673.92 89.36,673.06 90.2,673.42 91.04,675.17 91.89,675.8 92.73,678.33 93.37,679.29 94,679.39 94.63,674.91 95.27,672 96.11,665.67 97.17,673.06 98.22,663.56 98.86,663.33 99.49,662.5 100.33,669.89 101.18,676.64 102.02,667.78 103.08,669.89 104.13,661.44 104.77,664.43 105.4,665.67 106.24,672 106.88,670.08 107.51,667.78 108.14,667.29 108.78,665.67 109.41,666.93 110.04,668.83 110.68,665.44 111.31,664.61 111.94,661.95 112.58,661.44 113.21,665.5 113.84,672 114.48,665.53 115.11,661.44 115.74,662.65 116.38,662.5 117.01,663.62 117.64,667.36 118.49,654.06 119.33,657.22 120.39,663.56 121.44,669.47 122.29,643.29 123.13,657.22 123.98,659.33 125.03,655.11 126.09,661.44 126.93,644.98 127.78,653 128.62,664.61 129.47,645.61 130.31,659.33 131.16,664.61 132,648.78 132.84,663.56 133.69,648.78 134.53,645.61 135.38,659.33 136.22,650.89 137.07,658.28 137.91,648.78 138.76,655.11 139.6,660.39 140.44,644.13 141.29,653 142.13,657.22 142.98,656.17 143.82,661.02 144.67,657.22 145.51,661.44 146.36,650.89 147.2,657.22 148.04,653 148.89,658.28 149.73,650.89 150.37,642.44 151.21,653 152.06,660.39 152.9,650.89 153.74,649.83 154.59,661.02 155.43,650.89 156.28,650.47 157.12,661.44 157.97,653 158.81,657.22 159.66,661.02 160.5,648.78 161.13,637.17 161.98,646.67 162.82,653 163.67,643.5 164.51,642.44 165.36,650.89 166.2,657.22 167.04,644.56 167.89,638.22 168.73,650.89 169.58,661.02 170.42,646.67 171.27,636.53 172.11,646.67 172.96,657.22 173.8,653 174.64,648.78 175.49,651.94 176.33,641.39 177.18,644.56 178.02,654.06 178.87,643.5 179.71,656.17 180.56,644.56 181.4,657.22 182.24,648.78 183.09,642.44 183.93,617.11 184.78,650.89 185.62,660.39 186.47,630.83 187.31,646.67 188.16,656.17 189,634 189.84,642.44 190.69,613.31 191.32,638.22 191.96,672.42 192.8,638.22 193.64,631.89 194.49,641.39 195.33,629.78 196.18,631.89 197.02,642.02 197.87,620.28 198.71,627.67 199.56,641.39 200.4,618.17 201.24,629.78 202.09,631.89 202.93,625.56 203.78,623.44 204.62,612.89 205.47,602.76 206.31,619.22 207.16,638.64 208,627.67 208.84,634 209.69,625.56 210.53,617.11 211.38,633.58 212.22,606.13 213.07,621.33 213.91,603.39 214.76,618.17 215.6,602.33 216.44,581.22 217.29,617.11 218.13,606.56 218.98,600.22 219.82,593.89 220.67,591.36 221.51,600.22 222.36,597.06 222.99,634 223.83,600.22 224.55,561.21 225.29,581.56 226.03,559.37 226.77,531.63 227.51,555.67 228.25,572.31 228.99,551.97 229.73,539.02 230.47,606.15 231.21,520.53 231.95,542.72 232.69,566.76 233.43,533.48 234.35,514.98 235.09,505.37"/>
<text class="y" x="29.7" y="688.5">0</text>
<text class="y" x="29.7" y="663.75">20</text>
<text class="y" x="29.7" y="639">40</text>
<text class="y" x="29.7" y="614.25">60</text>
<text class="y" x="29.7" y="589.5">80</text>
<text class="y" x="29.7" y="564.75">100</text>
<text class="y" x="29.7" y="540">120</text>
<text class="y" x="29.7" y="515.25">140</text>
<text class="y" x="29.7" y="490.5">160</text>
<text class="x" x="39.5" y="701.6">00</text>
<text class="x" x="54.71" y="701.6">02</text>
<text class="x" x="69.93" y="701.6">04</text>
<text class="x" x="85.14" y="701.6">06</text>
<text class="x" x="100.36" y="701.6">08</text>
<text class="x" x="115.57" y="701.6">10</text>
<text class="x" x="130.79" y="701.6">12</text>
<text class="x" x="146" y="701.6">14</text>
<text class="x" x="161.21" y="701.6">16</text>
<text class="x" x="176.43" y="701.6">18</text>
<text class="x" x="191.64" y="701.6">20</text>
<text class="x" x="206.86" y="701.6">22</text>
<text class="x" x="222.07" y="701.6">24</text>
<text class="x" x="237.29" y="701.6">26</text>
<text class="x" x="252.5" y="701.6">28</text>
<text class="t" x="53" y="499.75" textLength="32.75" lengthAdjust="spacingAndGlyphs">Mali</text>
<path class="lg" d="M47 541.5H64.5"/>
<text class="l" x="66.25" y="544.5" textLength="126.75" lengthAdjust="spacingAndGlyphs">China's exports to Mali, in $ mn</text>
<path class="r" d="M227 487V688.4"/>
<text class="dc" x="208.75" y="490" textLength="15.3">Dec</text><text class="dc" x="208.75" y="502" textLength="12.2">'24</text>
<text class="sp" x="241.25" y="497" textLength="15">Sep</text><text class="sp" x="241.25" y="508.75" textLength="12">'25</text>
</g>
<g>
<path class="ya" d="M310 486V684M306 684h4M306 651.08h4M306 618.17h4M306 585.25h4M306 552.33h4M306 519.42h4M306 486.5h4"/>
<path class="xt" d="M310 684v3M325.23 684v3M340.46 684v3M355.7 684v3M370.93 684v3M386.16 684v3M401.39 684v3M416.62 684v3M431.86 684v3M447.09 684v3M462.32 684v3M477.55 684v3M492.79 684v3M508.02 684v3M523.25 684v3"/>
<path class="xa" d="M306 684H531"/>
<polyline class="d" points="310.11,682.56 310.96,680.62 311.8,680.02 312.64,682.98 313.28,681.18 313.91,680.44 314.54,681.61 315.18,682.98 315.81,682.15 316.44,680.87 317.08,681.62 317.71,683.4 319.19,683.45 320.67,683.61 322.78,683.65 324.89,683.82 327,683.65 329.11,683.82 331.22,683.67 333.33,683.82 335.44,683.38 337.56,683.82 338.61,682.34 339.67,682.13 340.3,683.56 340.93,683.61 341.57,682.44 342.2,681.5 343.04,681.7 343.89,683.61 344.73,683.47 345.58,682.56 346.42,680.87 347.06,681.89 347.69,683.4 348.53,683.31 349.38,682.98 350.22,682.45 351.07,682.56 351.91,682.47 352.76,683.4 353.6,682.64 354.44,682.13 355.29,682.31 356.13,682.98 356.77,681.42 357.4,680.44 358.03,678.95 358.67,678.33 359.3,680.33 359.93,682.56 360.57,681.84 361.2,679.39 361.83,677.17 362.47,674.53 363.31,673.69 364.16,681.5 364.79,681.42 365.42,680.44 366.06,679.64 366.69,678.76 367.32,679.99 367.96,680.87 368.59,677.37 369.22,673.69 370.07,673.06 370.91,680.44 371.54,679.59 372.18,678.33 372.81,677.09 373.44,675.17 374.08,678.02 374.71,679.39 375.34,678.56 375.98,676.22 376.61,678.03 377.24,678.76 377.88,677.8 378.51,675.8 379.14,678.83 379.78,680.02 380.41,674.75 381.04,669.89 381.89,669.47 382.73,678.76 383.37,678.24 384,676.22 384.84,667.78 385.69,655.11 386.53,654.06 387.38,679.39 388.22,657.22 389.07,667.78 389.91,648.78 390.76,672 391.6,642.44 392.44,642.02 393.29,667.78 393.92,643.5 394.56,669.89 395.4,675.17 396.24,650.89 397.09,661.44 397.72,637.17 398.36,657.22 399.2,661.44 400.04,649.2 400.89,667.78 401.73,650.89 402.58,669.89 403.42,650.89 404.27,667.78 405.11,661.44 405.96,672 406.8,664.61 407.64,676.22 408.49,669.89 409.33,676.22 410.18,664.61 411.02,663.56 411.87,677.91 412.71,666.72 413.56,675.17 414.4,667.78 415.24,661.87 416.09,676.22 416.93,680.44 417.78,678.33 418.62,674.11 419.47,676.22 420.31,667.78 421.16,667.36 422,679.39 422.63,678.37 423.27,676.22 423.9,676.82 424.53,678.33 425.17,677.65 425.8,675.17 426.43,677.87 427.07,678.76 427.7,678.17 428.33,676.22 428.97,674 429.6,673.69 430.23,677.29 430.87,679.39 431.5,678.73 432.13,676.64 432.77,677.17 433.4,678.33 434.03,674.1 434.67,673.06 435.51,668.83 436.36,676.22 436.99,673.11 437.62,672 438.26,670.36 438.89,669.89 439.73,666.72 440.58,674.11 441.21,672.25 441.84,667.36 442.48,669.58 443.11,672 443.74,673.38 444.38,676.22 445.22,680.44 446.07,665.67 446.91,680.44 447.76,676.22 448.6,662.5 449.44,667.78 450.29,678.33 450.92,676.09 451.56,675.17 452.19,674.39 452.82,672 453.46,668.6 454.09,667.78 454.93,663.13 455.78,675.17 456.62,667.78 457.47,661.44 458.31,665.67 459.16,654.06 460,663.56 460.84,657.22 461.69,651.94 462.53,675.17 463.38,665.67 464.22,654.06 465.07,667.78 465.91,653.42 466.76,663.56 467.6,669.89 468.44,673.69 469.29,661.44 470.13,657.22 470.98,664.61 471.82,655.11 472.67,650.89 473.3,636.11 474.14,653 474.99,638.22 475.83,661.44 476.68,637.8 477.52,653 478.37,655.11 479.21,646.67 480.06,648.78 480.9,621.33 481.53,620.7 482.38,642.44 483.22,638.22 484.07,648.78 484.91,654.69 485.76,650.89 486.6,604.02 487.44,627.67 488.29,612.89 489.13,631.89 489.98,623.44 490.82,643.5 491.67,629.78 492.51,575.31 493.36,640.33 494.2,645.61 495.04,621.33 495.89,610.78 496.73,645.61 497.58,600.22 498.42,579.11 499.27,617.11 500.11,580.17 500.96,621.33 501.59,649.83 502.43,580.17 503.49,581.22 503.8,552.89 504.54,576.01 505.28,574.16 505.83,526.45"/>
<text class="y" x="300.2" y="687.5">0</text>
<text class="y" x="300.2" y="654.58">500</text>
<text class="y" x="300.2" y="621.67">1000</text>
<text class="y" x="300.2" y="588.75">1500</text>
<text class="y" x="300.2" y="555.83">2000</text>
<text class="y" x="300.2" y="522.92">2500</text>
<text class="y" x="300.2" y="490">3000</text>
<text class="x" x="310" y="700.6">00</text>
<text class="x" x="325.23" y="700.6">02</text>
<text class="x" x="340.46" y="700.6">04</text>
<text class="x" x="355.7" y="700.6">06</text>
<text class="x" x="370.93" y="700.6">08</text>
<text class="x" x="386.16" y="700.6">10</text>
<text class="x" x="401.39" y="700.6">12</text>
<text class="x" x="416.62" y="700.6">14</text>
<text class="x" x="431.86" y="700.6">16</text>
<text class="x" x="447.09" y="700.6">18</text>
<text class="x" x="462.32" y="700.6">20</text>
<text class="x" x="477.55" y="700.6">22</text>
<text class="x" x="492.79" y="700.6">24</text>
<text class="x" x="508.02" y="700.6">26</text>
<text class="x" x="523.25" y="700.6">28</text>
<text class="t" x="323" y="499.75" textLength="49" lengthAdjust="spacingAndGlyphs">Liberia</text>
<path class="lg" d="M312 541.5H330"/>
<text class="l" x="331.75" y="544.5" textLength="135.75" lengthAdjust="spacingAndGlyphs">China's exports to Liberia, in $ mn</text>
<path class="r" d="M496.75 486.5V687.4"/>
<text class="dc" x="478.75" y="490" textLength="15.3">Dec</text><text class="dc" x="478.75" y="502" textLength="12.2">'24</text>
<text class="sp" x="509.5" y="514.5" textLength="15">Sep</text><text class="sp" x="509.5" y="526" textLength="12">'25</text>
</g>
<g>
<path class="ya" d="M579.5 486V684M575.5 684h4M575.5 651.08h4M575.5 618.17h4M575.5 585.25h4M575.5 552.33h4M575.5 519.42h4M575.5 486.5h4"/>
<path class="xt" d="M579.5 684v3M594.77 684v3M610.04 684v3M625.3 684v3M640.57 684v3M655.84 684v3M671.11 684v3M686.38 684v3M701.64 684v3M716.91 684v3M732.18 684v3M747.45 684v3M762.71 684v3M777.98 684v3M793.25 684v3"/>
<path class="xa" d="M575.5 684H801"/>
<polyline class="d" points="579.53,683.8 583.54,683.8 587.56,683.8 592.83,683.5 598.11,683.8 603.39,683.67 608.67,683.8 613.94,684.08 619.22,683.8 620.07,683.63 620.91,682.96 621.76,682.96 622.6,683.8 623.44,684.01 624.29,683.38 625.13,683.56 625.98,682.96 626.82,681.65 627.67,681.69 628.3,682.53 628.93,682.96 629.57,682.38 630.2,682.11 630.83,682 631.47,682.96 632.1,682.06 632.73,681.69 633.37,682.77 634,683.38 634.63,681.89 635.27,681.69 635.9,680.31 636.53,679.58 637.17,680.73 637.8,681.27 638.43,680.51 639.07,680.42 639.7,681.6 640.33,681.69 640.97,680.96 641.6,680 642.23,680.82 642.87,681.27 643.5,679.96 644.13,680 644.77,680.14 645.4,681.69 646.03,680.84 646.67,679.58 647.3,680.04 647.93,681.69 648.57,682.14 649.2,682.53 650.04,682.75 650.89,682.11 651.73,682 652.58,681.69 653.42,682.04 654.27,682.53 655.11,681.6 655.96,681.69 656.8,681.64 657.64,682.53 658.49,681.79 659.33,681.69 660.18,681.97 661.02,681.27 661.66,682.01 662.29,682.11 662.92,680.18 663.56,679.58 664.19,679.81 664.82,681.69 665.46,681.87 666.09,680.84 666.72,682.16 667.36,682.11 668.2,681.73 669.04,681.27 669.89,681.4 670.73,682.11 671.58,681.32 672.42,680.42 673.27,681.35 674.11,681.27 674.96,680.01 675.8,679.58 676.64,680.36 677.49,680.42 678.33,679.78 679.18,679.16 680.02,679.64 680.87,680 681.71,679.87 682.56,678.31 683.4,678.23 684.24,679.58 684.88,677.91 685.51,677.04 686.14,677.51 686.78,679.58 687.41,678.19 688.04,677.89 688.68,679.06 689.31,679.16 689.94,677.54 690.58,677.47 691.21,678.76 691.84,678.73 692.48,677.65 693.11,677.04 693.74,677.83 694.38,678.31 695.01,679.56 695.64,680.84 696.28,678.51 696.91,677.89 697.54,677.99 698.18,678.73 698.81,677.66 699.44,677.47 700.08,677.85 700.71,678.73 701.34,678.89 701.98,680.84 702.61,679.73 703.24,678.31 703.88,678.57 704.51,679.58 705.14,680.48 705.78,680.84 706.41,680.08 707.04,679.16 707.68,680.01 708.31,680 708.94,682.49 709.58,682.96 710.42,681.57 711.27,680.84 712.11,681.44 712.96,681.69 713.8,681.78 714.64,681.27 715.49,681.44 716.33,682.11 717.18,682.01 718.02,681.69 718.87,682.41 719.71,682.53 720.56,682.57 721.4,681.69 722.24,682.45 723.09,682.53 723.93,681.9 724.78,681.27 725.62,681.9 726.47,682.53 727.31,681.73 728.16,681.27 728.79,681.02 729.42,680.42 730.06,682.06 730.69,682.11 731.32,680.78 731.96,680.84 732.8,684.22 733.64,680.42 734.49,680.23 735.33,679.58 736.18,680.29 737.02,680.42 737.87,679.68 738.71,679.16 739.56,679.09 740.4,680.42 741.24,679.71 742.09,679.58 742.93,680.53 743.78,680.42 744.41,679.84 745.04,678.31 745.68,679.45 746.31,680 746.94,680.01 747.58,678.73 748.21,679.66 748.84,679.58 749.48,677.63 750.11,677.47 750.74,677.82 751.38,678.31 752.01,677.62 752.64,676.2 753.28,677.27 753.91,677.47 754.76,673.67 755.6,680.42 756.44,671.13 757.29,675.78 758.13,673.24 758.98,676.2 759.61,675.31 760.24,674.51 760.88,673.54 761.51,673.67 762.14,674.7 762.78,675.36 763.41,674.62 764.04,673.24 764.68,674.52 765.31,676.2 765.94,673.99 766.58,673.67 767.21,674.91 767.84,677.89 768.69,673.24 769.32,673.54 769.96,674.93 770.8,680 771.64,678.31 772.49,673.67 773.33,673.24 774.18,671.56 774.6,665.22 775,640 775.1,500.5"/>
<text class="y" x="569.7" y="687.5">0</text>
<text class="y" x="569.7" y="654.58">500</text>
<text class="y" x="569.7" y="621.67">1000</text>
<text class="y" x="569.7" y="588.75">1500</text>
<text class="y" x="569.7" y="555.83">2000</text>
<text class="y" x="569.7" y="522.92">2500</text>
<text class="y" x="569.7" y="490">3000</text>
<text class="x" x="579.5" y="700.6">00</text>
<text class="x" x="594.77" y="700.6">02</text>
<text class="x" x="610.04" y="700.6">04</text>
<text class="x" x="625.3" y="700.6">06</text>
<text class="x" x="640.57" y="700.6">08</text>
<text class="x" x="655.84" y="700.6">10</text>
<text class="x" x="671.11" y="700.6">12</text>
<text class="x" x="686.38" y="700.6">14</text>
<text class="x" x="701.64" y="700.6">16</text>
<text class="x" x="716.91" y="700.6">18</text>
<text class="x" x="732.18" y="700.6">20</text>
<text class="x" x="747.45" y="700.6">22</text>
<text class="x" x="762.71" y="700.6">24</text>
<text class="x" x="777.98" y="700.6">26</text>
<text class="x" x="793.25" y="700.6">28</text>
<text class="t" x="592.5" y="499.75" textLength="46" lengthAdjust="spacingAndGlyphs">Congo</text>
<path class="lg" d="M581.5 541.5H600"/>
<text class="l" x="601.75" y="544.5" textLength="134.5" lengthAdjust="spacingAndGlyphs">China's exports to Congo, in $ mn</text>
<path class="r" d="M766.75 486.5V687.4"/>
<text class="dc" x="748.25" y="490" textLength="15.3">Dec</text><text class="dc" x="748.25" y="502" textLength="12.2">'24</text>
<text class="sp" x="779" y="492" textLength="15">Sep</text><text class="sp" x="779" y="503.75" textLength="12">'25</text>
</g>
<g>
<path class="ya" d="M848.5 486.25V684.75M844.5 684.75h4M844.5 664.95h4M844.5 645.15h4M844.5 625.35h4M844.5 605.55h4M844.5 585.75h4M844.5 565.95h4M844.5 546.15h4M844.5 526.35h4M844.5 506.55h4M844.5 486.75h4"/>
<path class="xt" d="M848.5 684.75v3M863.71 684.75v3M878.93 684.75v3M894.14 684.75v3M909.36 684.75v3M924.57 684.75v3M939.79 684.75v3M955 684.75v3M970.21 684.75v3M985.43 684.75v3M1000.64 684.75v3M1015.86 684.75v3M1031.07 684.75v3M1046.29 684.75v3M1061.5 684.75v3"/>
<path class="xa" d="M844.5 684.75H1068.5"/>
<polyline class="d" points="848.53,682.56 849.38,680.82 850.22,680.44 851.07,678.08 851.91,676.64 852.54,680.67 853.18,682.56 854.02,681.82 854.87,681.71 855.71,682.48 856.56,682.98 857.4,681.56 858.24,680.87 859.09,682.01 859.93,682.56 860.78,680.96 861.62,680.44 862.26,677.64 862.89,676.64 863.52,678.41 864.16,682.56 865,681.98 865.84,681.71 866.69,682.36 867.53,682.98 868.38,681.43 869.22,680.44 869.86,679.22 870.49,678.33 871.54,673.69 872.6,681.5 873.44,680.34 874.29,679.39 875.13,680.04 875.98,682.56 876.82,680.88 877.67,679.39 878.51,680.6 879.36,680.87 880.2,679.28 881.04,678.33 881.68,676.52 882.31,676.22 883.16,667.78 884,654.06 884.84,672 885.48,673.44 886.11,676.22 886.74,674.7 887.38,672 888.22,663.56 889.07,642.87 889.91,674.11 890.54,675.81 891.18,677.28 891.81,674.58 892.44,674.11 893.5,682.56 894.56,669.89 895.4,682.56 896.03,681.51 896.67,679.39 897.3,676.33 897.93,672 898.78,654.69 899.62,676.22 900.47,654.06 901.31,667.78 902.16,678.33 903,675.17 904.06,663.56 905.11,677.28 906.17,679.39 907.22,667.78 908.07,656.17 908.91,663.56 909.76,673.06 910.39,675.24 911.02,676.22 911.66,674.9 912.29,673.06 912.92,672.24 913.56,672 914.19,675.91 914.82,677.28 915.46,675.6 916.09,675.17 917.14,664.61 918.2,679.39 918.83,677.7 919.47,676.22 920.31,661.44 920.94,647.72 921.79,673.06 922.84,672 923.48,668.53 924.11,667.78 925.17,649.83 926.01,663.56 927.07,657.22 927.91,650.89 928.76,647.09 929.6,661.44 930.23,658.04 930.87,657.22 931.5,660.51 932.13,663.56 932.77,656.72 933.4,653 934.24,663.56 935.09,655.11 935.93,657.22 936.78,642.44 937.41,630.2 938.26,646.67 939.1,641.39 939.94,654.06 941,668.83 941.84,657.22 942.69,650.89 943.53,641.39 944.38,659.33 945.22,640.33 946.07,646.67 946.91,609.72 947.76,646.67 948.6,656.17 949.44,642.44 950.08,631.47 950.92,648.78 951.77,641.39 952.61,657.22 953.67,648.78 954.51,657.22 955.36,665.67 955.78,673.69 956.62,659.33 957.47,663.56 958.31,650.89 959.16,642.44 960,631.89 960.63,623.87 961.48,644.56 962.32,651.94 963.17,661.44 963.8,669.89 964.64,616.06 965.49,629.78 966.33,642.44 967.18,648.78 968.02,623.87 968.87,634 969.71,642.44 970.56,646.67 971.4,643.5 972.24,649.83 973.09,655.11 973.93,650.89 974.78,657.22 975.62,642.44 976.47,650.89 977.31,643.5 978.16,657.22 979,668.83 979.84,638.22 980.69,627.67 981.53,642.44 982.38,650.89 983.22,642.87 984.07,646.67 984.91,654.06 985.76,656.17 986.6,662.5 987.44,655.11 988.29,646.67 989.13,638.22 989.98,646.67 990.82,638.64 991.67,640.33 992.51,648.78 993.36,655.11 994.2,657.22 995.04,661.44 995.89,656.17 996.73,659.33 997.58,650.89 998.42,655.11 999.27,644.56 1000.11,650.89 1000.96,676.22 1001.8,643.5 1002.64,644.56 1003.49,638.22 1003.91,632.94 1004.76,642.44 1005.6,639.28 1006.44,627.67 1007.29,610.78 1008.13,602.33 1008.98,631.89 1009.82,637.17 1010.67,627.67 1011.51,615 1012.36,589.67 1012.78,576.58 1013.29,592.65 1014.03,588.95 1014.77,603.75 1015.5,596.35 1016.43,607.45 1017.17,620.59 1017.91,636.11 1018.65,596.35 1019.39,578.78 1020.13,581.56 1020.87,570.46 1021.61,561.21 1022.35,581.56 1023.09,576.01 1023.83,588.95 1024.57,600.05 1024.94,566.76 1025.31,550.12 1026.23,564.91 1026.97,559.37 1027.71,564.91 1028.45,551.04 1029.19,582.48 1029.93,559.37 1030.67,557.52 1031.59,581.56 1032.52,610.77 1033.26,588.95 1034,574.16 1034.74,557.52 1035.48,544.57 1036.4,543.09 1037.33,543.65 1038.07,551.97 1038.81,588.95 1039.73,615.4 1040.28,551.97 1041.02,550.12 1041.76,533.48 1042.32,542.72 1042.87,505.74 1043.61,507.59 1044.17,512.21"/>
<text class="y" x="838.7" y="688.25">0</text>
<text class="y" x="838.7" y="668.45">20</text>
<text class="y" x="838.7" y="648.65">40</text>
<text class="y" x="838.7" y="628.85">60</text>
<text class="y" x="838.7" y="609.05">80</text>
<text class="y" x="838.7" y="589.25">100</text>
<text class="y" x="838.7" y="569.45">120</text>
<text class="y" x="838.7" y="549.65">140</text>
<text class="y" x="838.7" y="529.85">160</text>
<text class="y" x="838.7" y="510.05">180</text>
<text class="y" x="838.7" y="490.25">200</text>
<text class="x" x="848.5" y="701.35">00</text>
<text class="x" x="863.71" y="701.35">02</text>
<text class="x" x="878.93" y="701.35">04</text>
<text class="x" x="894.14" y="701.35">06</text>
<text class="x" x="909.36" y="701.35">08</text>
<text class="x" x="924.57" y="701.35">10</text>
<text class="x" x="939.79" y="701.35">12</text>
<text class="x" x="955" y="701.35">14</text>
<text class="x" x="970.21" y="701.35">16</text>
<text class="x" x="985.43" y="701.35">18</text>
<text class="x" x="1000.64" y="701.35">20</text>
<text class="x" x="1015.86" y="701.35">22</text>
<text class="x" x="1031.07" y="701.35">24</text>
<text class="x" x="1046.29" y="701.35">26</text>
<text class="x" x="1061.5" y="701.35">28</text>
<text class="t" x="862" y="499.75" textLength="77.5" lengthAdjust="spacingAndGlyphs">Zimbabwe</text>
<path class="lg" d="M843.75 541.5H862"/>
<text class="l" x="863.5" y="544.5" textLength="150.5" lengthAdjust="spacingAndGlyphs">China's exports to Zimbabwe, in $ mn</text>
<path class="r" d="M1036.5 486.75V688.15"/>
<text class="dc" x="1018" y="490" textLength="15.3">Dec</text><text class="dc" x="1018" y="502" textLength="12.2">'24</text>
<text class="sp" x="1049" y="492" textLength="15">Sep</text><text class="sp" x="1049" y="503.75" textLength="12">'25</text>
</g>
<defs><mask id="wm" maskUnits="userSpaceOnUse" x="740" y="630" width="70" height="60">
<g fill="#fff"><ellipse cx="765.7" cy="653.7" rx="14.5" ry="11.7"/><path d="M755.6 663.2L757.6 669L764.2 664.8Z"/></g>
<ellipse cx="780.3" cy="663.8" rx="13.3" ry="11.4" fill="#000"/>
<g fill="#fff"><ellipse cx="780.3" cy="663.8" rx="11.9" ry="10"/><path d="M784.6 672.6L788.4 674.9L787.9 670Z"/></g>
<g fill="#000"><circle cx="760.6" cy="650.4" r="1.8"/><circle cx="770.5" cy="650.4" r="1.8"/><circle cx="775.9" cy="660.4" r="1.5"/><circle cx="784" cy="660.4" r="1.5"/></g>
</mask></defs>
<g fill="#5a5a5a" fill-opacity="0.5">
<rect x="740" y="630" width="70" height="60" mask="url(#wm)"/>
<text x="801" y="669.8" font-size="30" font-family="'Liberation Sans','Noto Sans CJK SC',sans-serif">公众号</text>
<text x="906.2" y="666.6" font-size="30" text-anchor="middle" font-family="'Liberation Sans','Noto Sans CJK SC',sans-serif">·</text>
<text x="924.5" y="669.8" font-size="30" font-family="'Liberation Sans','Noto Sans CJK SC',sans-serif">底线思维</text>
</g>
</svg>
</body></html>
